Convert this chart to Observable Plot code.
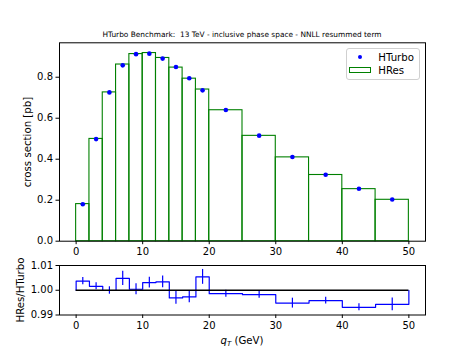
<!DOCTYPE html>
<html>
<head>
<meta charset="utf-8">
<script src="https://cdn.jsdelivr.net/npm/d3@7"></script>
<script src="https://cdn.jsdelivr.net/npm/@observablehq/plot@0.6"></script>
<style>
  html, body { margin: 0; padding: 0; background: white; }
  #fig { position: relative; width: 472px; height: 354px; font-family: "DejaVu Sans", sans-serif; color: black; overflow: hidden; }
  #fig svg { position: absolute; left: 0; top: 0; background: transparent; overflow: visible; }
  .abs { position: absolute; white-space: nowrap; }
</style>
</head>
<body>
<div id="fig"></div>
<script>
// Bin edges (GeV)
const binLo = [0, 2, 4, 6, 8, 10, 12, 14, 16, 18, 20, 25, 30, 35, 40, 45];
const binHi = [2, 4, 6, 8, 10, 12, 14, 16, 18, 20, 25, 30, 35, 40, 45, 50];
// HRes cross section per bin [pb]
const hres = [0.181, 0.499, 0.726, 0.862, 0.913, 0.918, 0.894, 0.847, 0.793, 0.740, 0.639, 0.514, 0.409, 0.323, 0.254, 0.202];
// Ratio HRes/HTurbo per bin and its uncertainty
const ratio = [1.0037, 1.0016, 0.9999, 1.0048, 1.0004, 1.0031, 1.0034, 0.9969, 0.9973, 1.0054, 0.9986, 0.9982, 0.9948, 0.9958, 0.9931, 0.9943];
const ratioErr = [0.0015, 0.0014, 0.0015, 0.0029, 0.0022, 0.0022, 0.0024, 0.0026, 0.0024, 0.0030, 0.0014, 0.0014, 0.0020, 0.0014, 0.0014, 0.0026];
const xTicks = [0, 10, 20, 30, 40, 50];
const yTicksMain = [0, 0.2, 0.4, 0.6, 0.8];
const yTicksRatio = [0.99, 1.00, 1.01];

const bins = binLo.map((lo, i) => ({
  lo, hi: binHi[i], mid: (lo + binHi[i]) / 2,
  hres: hres[i], hturbo: hres[i] / ratio[i],
  r: ratio[i], rlo: ratio[i] - ratioErr[i], rhi: ratio[i] + ratioErr[i]
}));
// step outline for ratio histogram
const step = [{x: 0, y: 1}];
bins.forEach(b => step.push({x: b.lo, y: b.r}));
step.push({x: 50, y: ratio[ratio.length - 1]});
step.push({x: 50, y: 1});

const W = 472, H = 354, ML = 59, MR = 47;
const common = {
  width: W, height: H, marginLeft: ML, marginRight: MR,
  style: {fontFamily: "DejaVu Sans, sans-serif", fontSize: "10px", background: "transparent", color: "black", overflow: "visible"}
};

const main = Plot.plot({
  ...common,
  marginTop: 42.3, marginBottom: H - 240.7,
  x: {domain: [-2.5, 52.5], ticks: xTicks, tickSize: 3.5, tickPadding: 3, label: null, tickFormat: d3.format("d")},
  y: {domain: [0, 0.968], ticks: yTicksMain, tickSize: 3.5, tickPadding: 3, label: null, tickFormat: d3.format(".1f")},
  marks: [
    Plot.rect(bins, {x1: "lo", x2: "hi", y1: 0, y2: "hres", fill: "none", stroke: "green", strokeWidth: 1.1}),
    Plot.dot(bins, {x: "mid", y: "hturbo", r: 2.3, fill: "blue", stroke: "none"}),
    Plot.frame({stroke: "black", strokeWidth: 1})
  ]
});

const rat = Plot.plot({
  ...common,
  marginTop: 265, marginBottom: H - 314.5,
  x: {domain: [-2.5, 52.5], ticks: xTicks, tickSize: 3.5, tickPadding: 3, label: null, tickFormat: d3.format("d")},
  y: {domain: [0.99, 1.01], ticks: yTicksRatio, tickSize: 3.5, tickPadding: 3, label: null, tickFormat: d3.format(".2f")},
  marks: [
    Plot.line(step, {x: "x", y: "y", curve: "step-after", stroke: "blue", strokeWidth: 1.2}),
    Plot.ruleX(bins, {x: "mid", y1: "rlo", y2: "rhi", stroke: "blue", strokeWidth: 1.2}),
    Plot.ruleY([1], {x1: 0, x2: 50, stroke: "black", strokeWidth: 1.5}),
    Plot.frame({stroke: "black", strokeWidth: 1})
  ]
});

const fig = document.getElementById("fig");
fig.appendChild(main);
fig.appendChild(rat);

function addText(html, css) {
  const d = document.createElement("div");
  d.className = "abs";
  d.innerHTML = html;
  Object.assign(d.style, css);
  fig.appendChild(d);
  return d;
}
// title
addText("HTurbo Benchmark:&nbsp; 13 TeV - inclusive phase space - NNLL resummed term",
  {left: "242px", top: "33.5px", transform: "translate(-50%,-50%)", fontSize: "7.4px"});
// y labels
addText("cross section [pb]", {left: "26.5px", top: "141.5px", transform: "translate(-50%,-50%) rotate(-90deg)", fontSize: "10.2px"});
addText("HRes/HTurbo", {left: "20px", top: "289.5px", transform: "translate(-50%,-50%) rotate(-90deg)", fontSize: "10.2px"});
// x label
addText("<i>q</i><sub style='font-size:7px;vertical-align:-2px'><i>T</i></sub> (GeV)",
  {left: "242px", top: "341px", transform: "translate(-50%,-50%)", fontSize: "10.2px"});
// legend
const leg = document.createElement("div");
leg.className = "abs";
Object.assign(leg.style, {left: "345.5px", top: "47.5px", width: "74px", height: "32.5px", border: "1px solid #d0d0d0", borderRadius: "3px", background: "rgba(255,255,255,0.8)", boxSizing: "border-box"});
fig.appendChild(leg);
addText("", {left: "357.8px", top: "54.5px", width: "4.6px", height: "4.6px", borderRadius: "50%", background: "blue"});
addText("", {left: "349px", top: "67px", width: "21.5px", height: "5.5px", border: "1.1px solid green", boxSizing: "border-box"});
addText("HTurbo", {left: "378.3px", top: "56.7px", transform: "translateY(-50%)", fontSize: "10.2px"});
addText("HRes", {left: "378.3px", top: "70px", transform: "translateY(-50%)", fontSize: "10.2px"});
</script>
</body>
</html>
